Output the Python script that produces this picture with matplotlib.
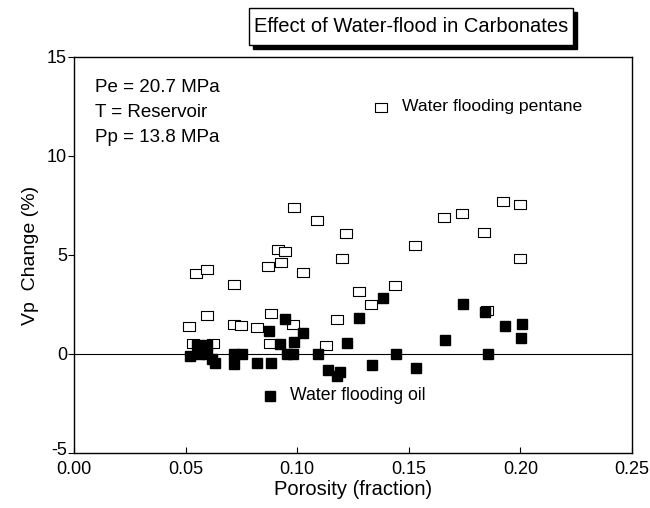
import matplotlib
matplotlib.use('Agg')
import matplotlib.pyplot as plt
import matplotlib.transforms as mtransforms
from matplotlib.patches import Rectangle

plt.rcParams['font.family'] = ['Liberation Sans', 'DejaVu Sans']
plt.rcParams['axes.unicode_minus'] = False

# Water flooding pentane (hollow squares)
pentane_phi = [0.0986, 0.1087, 0.1219, 0.0913, 0.0945, 0.0926, 0.0868, 0.1199, 0.1027,
               0.0545, 0.0594, 0.0717, 0.0594, 0.0515, 0.0883, 0.0717, 0.0747, 0.0818,
               0.0981, 0.1177, 0.0535, 0.0624, 0.0878, 0.1129, 0.1923, 0.1998, 0.1659,
               0.1738, 0.1837, 0.1529, 0.1998, 0.1440, 0.1277, 0.1331, 0.1852]
pentane_dvp = [7.42, 6.75, 6.11, 5.29, 5.19, 4.63, 4.43, 4.83, 4.14,
               4.11, 4.28, 3.52, 1.95, 1.41, 2.07, 1.53, 1.45, 1.36,
               1.50, 1.75, 0.54, 0.54, 0.56, 0.47, 7.73, 7.59, 6.92,
               7.11, 6.18, 5.51, 4.86, 3.47, 3.17, 2.51, 2.22]

# Water flooding oil (filled squares)
oil_phi = [0.0945, 0.1027, 0.0872, 0.0987, 0.0923, 0.0550, 0.0594, 0.0520, 0.0560,
           0.0597, 0.0632, 0.0620, 0.0717, 0.0751, 0.0718, 0.0818, 0.0881, 0.0953,
           0.0983, 0.1092, 0.1222, 0.1139, 0.1192, 0.1177, 0.1386, 0.1277, 0.1662,
           0.1745, 0.1841, 0.1931, 0.2008, 0.2003, 0.1441, 0.1853, 0.1334, 0.1534]
oil_dvp = [1.78, 1.05, 1.15, 0.62, 0.49, 0.47, 0.47, -0.10, 0.02,
           0.02, -0.44, -0.25, 0.00, 0.00, -0.52, -0.44, -0.47, 0.00,
           0.00, 0.00, 0.57, -0.82, -0.89, -1.11, 2.81, 1.80, 0.72,
           2.51, 2.10, 1.40, 1.53, 0.80, 0.00, 0.00, -0.56, -0.71]

xticks = [0.00, 0.05, 0.10, 0.15, 0.20, 0.25]
yticks = [-5, 0, 5, 10, 15]
notes = ['Pe = 20.7 MPa', 'T = Reservoir', 'Pp = 13.8 MPa']

# slightly wide open box, like the original
wide_box = [(-1, -0.72), (1, -0.72), (1, 0.72), (-1, 0.72), (-1, -0.72)]

fig = plt.figure(figsize=(6.5, 5.08), dpi=100)
ax = fig.add_axes([0.1138, 0.1083, 0.8585, 0.7795])

ax.axhline(0, color='black', lw=0.8, zorder=1)
ax.plot(pentane_phi, pentane_dvp, ls='none', marker=wide_box, ms=9, mfc='white',
        mec='black', mew=0.8, zorder=2)
ax.plot(oil_phi, oil_dvp, 's', ms=7, mfc='black', mec='black', zorder=3)

ax.set_xlim(0, 0.25)
ax.set_ylim(-5, 15)
ax.set_xticks(xticks)
ax.set_xticklabels(['%.2f' % t for t in xticks])
ax.set_yticks(yticks)
ax.tick_params(axis='x', direction='in', length=4, labelsize=13, pad=6)
ax.tick_params(axis='y', direction='out', length=4, labelsize=13, pad=1)
for s in ax.spines.values():
    s.set_linewidth(1.0)

# lift the "-5" a little so it sits above "0.00"
lbl = ax.get_yticklabels()[0]
lbl.set_transform(lbl.get_transform() +
                  mtransforms.ScaledTranslation(0, 3 / 72, fig.dpi_scale_trans))

ax.set_xlabel('Porosity (fraction)', fontsize=14.5, labelpad=1)
ax.set_ylabel('Vp  Change (%)', fontsize=14, labelpad=6)

# conditions text
for i, t in enumerate(notes):
    ax.text(0.038, 0.922 - i * 0.063, t, transform=ax.transAxes, fontsize=13.5,
            va='center', ha='left')

# legend entries
ax.plot([0.550], [0.874], ls='none', marker=wide_box, ms=9, mfc='white', mec='black',
        mew=0.8, transform=ax.transAxes, clip_on=False)
ax.text(0.588, 0.874, 'Water flooding pentane', transform=ax.transAxes,
        fontsize=12.6, va='center', ha='left')
ax.plot([0.351], [0.144], 's', ms=7, mfc='black', mec='black',
        transform=ax.transAxes, clip_on=False)
ax.text(0.387, 0.144, 'Water flooding oil', transform=ax.transAxes,
        fontsize=12.7, va='center', ha='left')

# title inside a box with a drop shadow
title = fig.text(0.632, 0.947, 'Effect of Water-flood in Carbonates', fontsize=14.5,
                 ha='center', va='center', zorder=5)
fig.canvas.draw()
bb = title.get_window_extent()
padx, pady = 5, 9
x0, y0 = bb.x0 - padx, bb.y0 - pady
w, h = bb.width + 2 * padx, bb.height + 2 * pady
fig.patches.append(Rectangle((x0 + 4, y0 - 4), w, h, transform=None,
                             fc='black', ec='black', zorder=3))
fig.patches.append(Rectangle((x0, y0), w, h, transform=None,
                             fc='white', ec='black', lw=1.0, zorder=4))

fig.savefig('out.png', dpi=100)
